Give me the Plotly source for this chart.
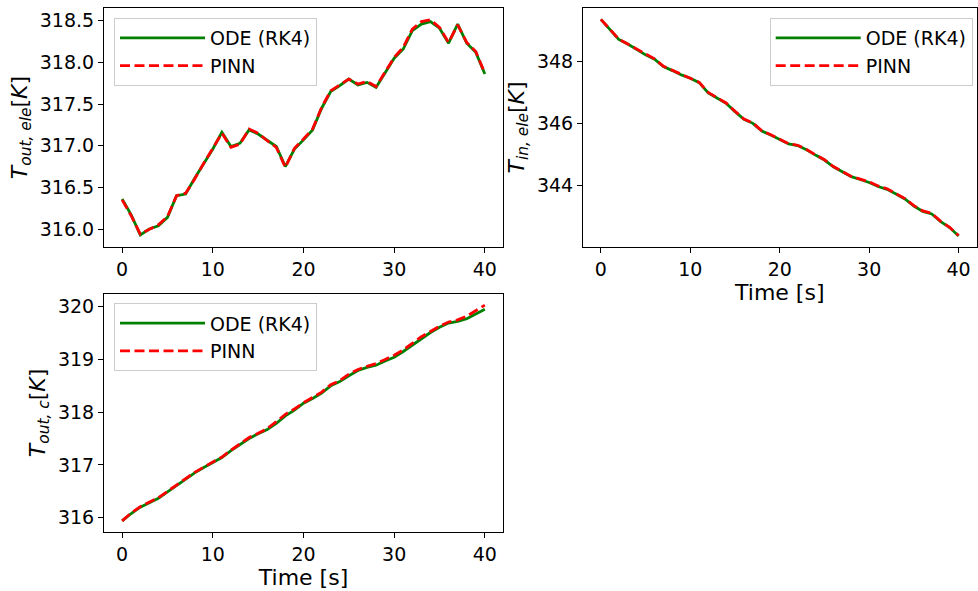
import plotly.graph_objects as go

# time samples [s]
time = list(range(0, 41))

# T_out,ele [K]
t_out_ele_ode = [316.36, 316.17, 315.93, 316.00, 316.04, 316.14, 316.40, 316.42, 316.61, 316.78,
                 316.96, 317.16, 316.99, 317.03, 317.19, 317.14, 317.07, 316.99, 316.75, 316.96,
                 317.07, 317.19, 317.45, 317.65, 317.72, 317.80, 317.73, 317.76, 317.70, 317.87,
                 318.05, 318.16, 318.38, 318.46, 318.49, 318.41, 318.23, 318.46, 318.23, 318.12,
                 317.86]
t_out_ele_pinn = [316.35, 316.16, 315.94, 316.00, 316.05, 316.15, 316.40, 316.43, 316.60, 316.79,
                  316.97, 317.15, 316.98, 317.02, 317.20, 317.15, 317.06, 316.98, 316.74, 316.97,
                  317.08, 317.20, 317.46, 317.66, 317.73, 317.80, 317.74, 317.77, 317.71, 317.88,
                  318.06, 318.18, 318.40, 318.49, 318.51, 318.42, 318.24, 318.45, 318.24, 318.13,
                  317.87]

# T_in,ele [K]
t_in_ele_ode = [349.37, 349.03, 348.72, 348.57, 348.40, 348.22, 348.08, 347.84, 347.71, 347.57,
                347.46, 347.32, 346.99, 346.81, 346.65, 346.38, 346.13, 346.00, 345.75, 345.62,
                345.48, 345.33, 345.28, 345.14, 344.97, 344.81, 344.59, 344.43, 344.27, 344.18,
                344.08, 343.95, 343.86, 343.71, 343.55, 343.32, 343.14, 343.06, 342.81, 342.62,
                342.35]
t_in_ele_pinn = [349.37, 349.04, 348.73, 348.57, 348.41, 348.23, 348.09, 347.85, 347.72, 347.58,
                 347.47, 347.33, 347.00, 346.82, 346.66, 346.39, 346.14, 346.01, 345.76, 345.63,
                 345.49, 345.34, 345.29, 345.15, 344.98, 344.82, 344.60, 344.44, 344.28, 344.19,
                 344.10, 343.97, 343.88, 343.72, 343.56, 343.33, 343.16, 343.08, 342.82, 342.63,
                 342.36]

# T_out,c [K]
t_out_c_ode = [315.94, 316.08, 316.20, 316.29, 316.37, 316.49, 316.61, 316.73, 316.85, 316.95,
               317.05, 317.14, 317.27, 317.38, 317.50, 317.59, 317.67, 317.79, 317.93, 318.04,
               318.17, 318.26, 318.36, 318.50, 318.58, 318.69, 318.79, 318.85, 318.89, 318.97,
               319.04, 319.15, 319.27, 319.40, 319.51, 319.61, 319.69, 319.72, 319.77, 319.86,
               319.95]
t_out_c_pinn = [315.94, 316.09, 316.21, 316.30, 316.38, 316.50, 316.62, 316.74, 316.86, 316.96,
                317.06, 317.15, 317.28, 317.40, 317.52, 317.60, 317.69, 317.82, 317.96, 318.06,
                318.18, 318.28, 318.38, 318.52, 318.60, 318.72, 318.81, 318.87, 318.92, 319.00,
                319.08, 319.18, 319.30, 319.43, 319.53, 319.63, 319.71, 319.75, 319.82, 319.92,
                320.03]

x_ticks = [0, 10, 20, 30, 40]
y1_ticks = [316.0, 316.5, 317.0, 317.5, 318.0, 318.5]
y2_ticks = [344, 346, 348]
y3_ticks = [316, 317, 318, 319, 320]

green = "#008000"
red = "#ff0000"
font = "DejaVu Sans"
fsize = 19
title_size = 22

W, H = 978, 591


def px_x(v):
    return v / W


def px_y(v):
    return 1 - v / H


fig = go.Figure()

panels = [
    (t_out_ele_ode, t_out_ele_pinn, "x", "y", "legend"),
    (t_in_ele_ode, t_in_ele_pinn, "x2", "y2", "legend2"),
    (t_out_c_ode, t_out_c_pinn, "x3", "y3", "legend3"),
]
for ode, pinn, xa, ya, lg in panels:
    fig.add_trace(go.Scatter(x=time, y=ode, mode="lines", name="ODE (RK4)",
                             line=dict(color=green, width=2.8),
                             xaxis=xa, yaxis=ya, legend=lg))
    fig.add_trace(go.Scatter(x=time, y=pinn, mode="lines", name="PINN",
                             line=dict(color=red, width=2.8, dash="10px,4.5px"),
                             xaxis=xa, yaxis=ya, legend=lg))


def axis_style(**kw):
    d = dict(
        showline=True, mirror=True, linecolor="black", linewidth=1.1,
        ticks="outside", ticklen=5, tickwidth=1.1, tickcolor="black",
        showgrid=False, zeroline=False, automargin=False,
        tickfont=dict(family=font, size=fsize, color="black"),
    )
    d.update(kw)
    return d


def title(text, standoff):
    return dict(text=text, standoff=standoff,
                font=dict(family=font, size=title_size, color="black"))


fig.update_layout(
    width=W, height=H,
    margin=dict(l=0, r=0, t=0, b=0),
    plot_bgcolor="white", paper_bgcolor="white",
    font=dict(family=font, size=fsize, color="black"),
    xaxis=axis_style(domain=[px_x(104), px_x(503)], range=[-2, 42], tickvals=x_ticks, anchor="y"),
    yaxis=axis_style(domain=[px_y(246.7), px_y(8.3)], range=[315.788, 318.649],
                     tickvals=y1_ticks, tickformat=".1f", anchor="x",
                     title=title("<i>T</i><sub><i>out, ele</i></sub>[<i>K</i>]", 6)),
    xaxis2=axis_style(domain=[px_x(583), px_x(976.5)], range=[-2, 42], tickvals=x_ticks,
                      anchor="y2", title=title("Time [s]", 2)),
    yaxis2=axis_style(domain=[px_y(246.7), px_y(8.3)], range=[342.0, 349.73],
                      tickvals=y2_ticks, anchor="x2",
                      title=title("<i>T</i><sub><i>in, ele</i></sub>[<i>K</i>]", 6)),
    xaxis3=axis_style(domain=[px_x(104), px_x(503)], range=[-2, 42], tickvals=x_ticks,
                      anchor="y3", title=title("Time [s]", 2)),
    yaxis3=axis_style(domain=[px_y(531.7), px_y(294)], range=[315.735, 320.24],
                      tickvals=y3_ticks, anchor="x3",
                      title=title("<i>T</i><sub><i>out, c</i></sub>[<i>K</i>]", 6)),
)

legend_style = dict(
    bgcolor="rgba(255,255,255,0.8)", bordercolor="#cccccc", borderwidth=1,
    font=dict(family=font, size=fsize, color="black"),
    yanchor="top", itemwidth=85,
)
fig.update_layout(
    legend=dict(legend_style, x=px_x(114), y=px_y(18), xanchor="left"),
    legend2=dict(legend_style, x=px_x(972.7), y=px_y(18), xanchor="right"),
    legend3=dict(legend_style, x=px_x(114), y=px_y(303.3), xanchor="left"),
)

# the page body has a default 8px margin; drop it so the figure fills the window
fig.write_html("out.html", config={"displayModeBar": False},
               post_script="document.body.style.margin='0';")
